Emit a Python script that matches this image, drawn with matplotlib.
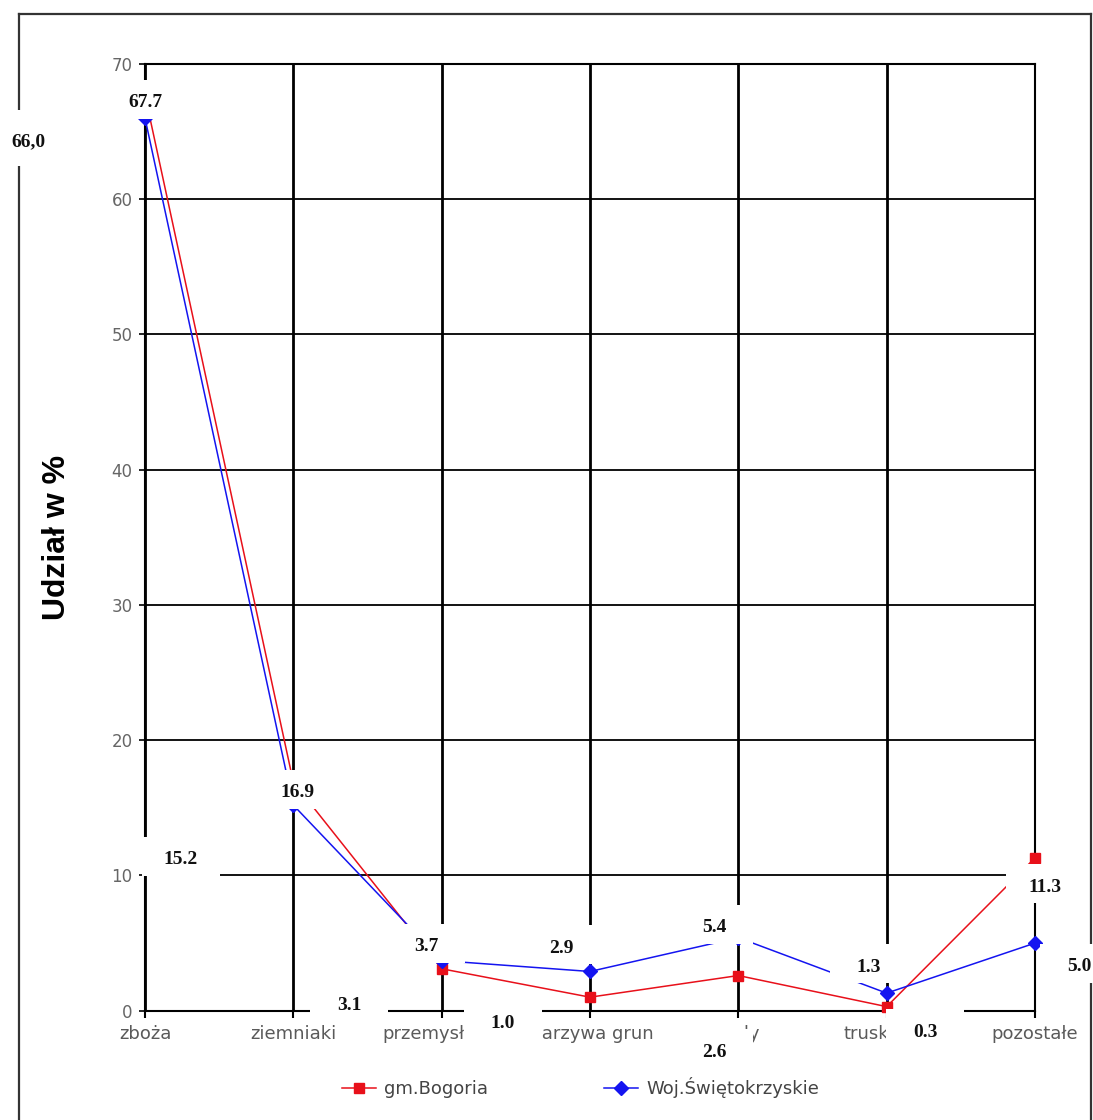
import matplotlib
matplotlib.use('Agg')
import matplotlib.pyplot as plt
from matplotlib.lines import Line2D
from matplotlib.patches import Rectangle
from matplotlib.offsetbox import DrawingArea, AnnotationBbox
from matplotlib.text import Text

# ---- data ----
categories = ["zboża", "ziemniaki", "przemysłowe", "warzywa grun", "sady", "truskawki", "pozostałe"]
bogoria = [67.7, 16.9, 3.1, 1.0, 2.6, 0.3, 11.3]
swietokrzyskie = [66.0, 15.2, 3.7, 2.9, 5.4, 1.3, 5.0]
bogoria_labels = ["67.7", "16.9", "3.1", "1.0", "2.6", "0.3", "11.3"]
swiet_labels = ["66,0", "15.2", "3.7", "2.9", "5.4", "1.3", "5.0"]
yticks = [0, 10, 20, 30, 40, 50, 60, 70]
series_names = ["gm.Bogoria", "Woj.Świętokrzyskie"]

# label offsets (points) of the label box centre relative to each data point
bog_off = [(0, -3.0), (2.7, -5.3), (-66.7, -23.6), (-62.6, -16.1), (-17.5, -52.6), (27.6, -15.8), (7.2, -18.5)]
swi_off = [(-84.2, -14.5), (-80.9, -37.0), (-11.3, 12.4), (-20.9, 19.4), (-17.5, 9.5), (-12.7, 21.3), (31.7, -14.7)]

W, H = 1093, 1120
fig = plt.figure(figsize=(W / 100, H / 100), dpi=100)
ax = fig.add_axes([145 / W, 1 - 1010.7 / H, (1035 - 145) / W, (1010.7 - 64) / H])

x = list(range(len(categories)))
red = '#e8101a'
blue = '#1414f0'
ax.plot(x, bogoria, color=red, lw=1.1, marker='s', ms=7, mec=red, mfc=red, zorder=3, clip_on=False)
ax.plot(x, swietokrzyskie, color=blue, lw=1.1, marker='D', ms=7, mec=blue, mfc=blue, zorder=3, clip_on=False)

ax.set_xlim(0, len(categories) - 1)
ax.set_ylim(0, 70)
ax.set_yticks(yticks)
ax.set_xticks(x)
ax.set_xticklabels(categories)

gray = '#5a5a5a'
ax.tick_params(axis='x', direction='out', length=5, width=1.5, pad=5, labelsize=13, labelcolor=gray, color='black')
ax.tick_params(axis='y', direction='out', length=4, width=1.2, pad=5, labelsize=12, labelcolor='#666666', color='black')
for lab in ax.get_xticklabels() + ax.get_yticklabels():
    lab.set_family('DejaVu Sans')

ax.xaxis.grid(True, color='black', lw=2.0)
ax.yaxis.grid(True, color='black', lw=1.3)
ax.set_axisbelow(True)
for s in ax.spines.values():
    s.set_color('black')
    s.set_linewidth(1.5)

ax.set_ylabel("Udział w %", fontsize=23, fontweight='bold', family='Liberation Sans')
ax.yaxis.set_label_coords((72 - 145) / (1035 - 145), 0.5)

# ---- data labels in white boxes ----
bw, bh = 56, 28


def add_label(xv, yv, txt, off, h=bh):
    da = DrawingArea(bw, h, 0, 0)
    da.add_artist(Rectangle((0, 0), bw, h, fc='white', ec='none'))
    da.add_artist(Text(bw / 2, h / 2 - 2.5, txt, ha='center', va='center',
                       fontsize=14, fontweight='bold', family='Liberation Serif', color='#111111'))
    ab = AnnotationBbox(da, (xv, yv), xybox=off, xycoords='data', boxcoords='offset points',
                        frameon=False, pad=0, zorder=10, annotation_clip=False)
    ax.add_artist(ab)


for i in x:
    add_label(i, bogoria[i], bogoria_labels[i], bog_off[i])
for i in x:
    add_label(i, swietokrzyskie[i], swiet_labels[i], swi_off[i], h=(40 if i == 0 else bh))

# ---- outer frame (bottom beyond image) ----
fx0, fx1, fy0 = 19 / W, 1091 / W, 1 - 14 / H
for xs, ys in [([fx0, fx0], [fy0, -0.01]), ([fx0, fx1], [fy0, fy0]), ([fx1, fx1], [fy0, -0.01])]:
    fig.add_artist(Line2D(xs, ys, transform=fig.transFigure, color='#333333', lw=1.6, zorder=-1))

# ---- legend ----
handles = [Line2D([], [], color=red, lw=1.1, marker='s', ms=7, mfc=red, mec=red),
           Line2D([], [], color=blue, lw=1.1, marker='D', ms=7, mfc=blue, mec=blue)]
leg = fig.legend(handles, series_names, loc='center left', bbox_to_anchor=(342 / W, 1 - 1088 / H),
                 ncol=2, frameon=False, borderpad=0, borderaxespad=0, handlelength=1.9,
                 handletextpad=0.45, columnspacing=6.4, prop={'family': 'DejaVu Sans', 'size': 13})
for t in leg.get_texts():
    t.set_color('#444444')

fig.savefig('out.png', dpi=100)
